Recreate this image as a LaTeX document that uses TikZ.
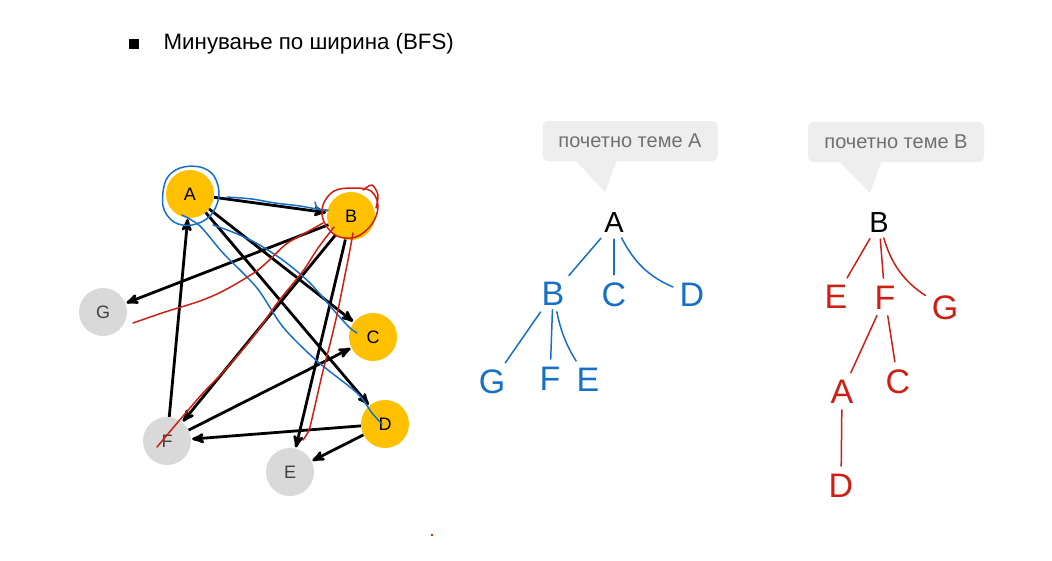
\documentclass[tikz,border=0pt]{standalone}
\usepackage{fontspec}
\setmainfont{Liberation Sans}
\usepackage{tikz}
\usetikzlibrary{arrows,positioning}

\definecolor{amber}{RGB}{255,192,0}
\definecolor{lightgrey}{RGB}{217,217,217}
\definecolor{penblue}{RGB}{24,112,198}
\definecolor{penred}{RGB}{204,32,20}
\definecolor{bubblegrey}{RGB}{238,238,238}
\definecolor{bubbletext}{RGB}{112,112,112}

\begin{document}
\begin{tikzpicture}[x=1pt,y=-1pt,>=stealth',
    main node/.style={circle,fill=amber,minimum size=48pt,inner sep=0pt,font=\fontsize{18}{20}\selectfont},
    grey node/.style={main node,fill=lightgrey,text=black!75},
    edge line/.style={->,line width=2.8pt,shorten >=1pt},
    hand blue/.style={penblue,line width=1.5pt,line cap=round,line join=round},
    hand red/.style={hand blue,penred},
    blue letter/.style={text=penblue,font=\fontsize{34}{34}\selectfont,inner sep=2pt},
    red letter/.style={blue letter,text=penred},
    root letter/.style={font=\fontsize{29}{29}\selectfont,inner sep=2pt},
    bubble/.style={fill=bubblegrey,rounded corners=5pt,text=bubbletext,
                   font=\fontsize{20}{22}\selectfont,minimum height=40pt,inner xsep=10pt}]

  \fill[white] (0,0) rectangle (1052,560);
  \useasboundingbox (0,0) rectangle (1052,560);

  % title
  \node[fill=black,minimum size=10.5pt,inner sep=0pt] (bullet) at (134,44) {};
  \node[right=24pt of bullet,inner sep=0pt,font=\fontsize{22.3}{24}\selectfont] (title) {Минување по ширина (BFS)};

  % graph
  \node[main node] (A) at (190,194) {A};
  \node[main node] (B) at (351,216) {B};
  \node[main node] (C) at (373,337) {C};
  \node[main node] (D) at (385,424) {D};
  \node[grey node] (E) at (290,472) {E};
  \node[grey node] (F) at (167,441) {F};
  \node[grey node] (G) at (103,312) {G};

  \path[edge line]
    (A) edge (B)
    (A) edge (C)
    (A) edge (D)
    (B) edge (G)
    (B) edge (F)
    (B) edge (E)
    (F) edge (A)
    (F) edge (C)
    (D) edge (F)
    (D) edge (E);

  % blue pen, start at A
  \draw[hand blue] plot[smooth cycle,tension=0.6] coordinates
    {(166,180) (180,168) (200,167) (214,176) (219,196) (210,216) (192,225) (174,222) (163,206)};
  \draw[hand blue] plot[smooth] coordinates {(227,197) (252,199) (275,203) (300,206) (327,211)};
  \draw[hand blue] plot[smooth] coordinates {(315,202) (318,209) (328,210)};
  \draw[hand blue] plot[smooth] coordinates
    {(213,225) (235,233) (258,244) (284,261) (310,283) (337,314) (350,328) (357,333)};
  \draw[hand blue] plot[smooth] coordinates
    {(182,215) (200,226) (223,253) (257,288) (283,327) (317,361) (357,393) (372,413) (382,424)};

  % red pen, start at B
  \draw[hand red] plot[smooth cycle,tension=0.6] coordinates
    {(323,205) (334,191) (353,188) (371,191) (378,206) (372,224) (356,237) (337,236) (324,222)};
  \draw[hand red] plot[smooth] coordinates {(363,190) (372,185) (378,195) (376,208)};
  \draw[hand red] plot[smooth] coordinates
    {(323,223) (300,236) (285,245) (258,270) (225,290) (200,301) (165,312) (133,323)};
  \draw[hand red] plot[smooth] coordinates
    {(334,227) (318,248) (303,271) (278,302) (253,337) (225,370) (203,393) (178,422) (157,447)};
  \draw[hand red] plot[smooth] coordinates
    {(353,233) (349,255) (345,275) (338,310) (331,340) (322,375) (314,410) (309,430) (303,440)};

  % tree from A
  \node[bubble,minimum width=175pt] (callA) at (630,141) {почетно теме A};
  \fill[bubblegrey] (575,160) -- (617,160) -- (605,192) -- cycle;
  \node[root letter] (a0) at (614,223) {A};
  \node[blue letter] (a1) at (553,294) {B};
  \node[blue letter] (a2) at (614,295) {C};
  \node[blue letter] (a3) at (692,295) {D};
  \node[blue letter] (a4) at (492,382) {G};
  \node[blue letter] (a5) at (550,379) {F};
  \node[blue letter] (a6) at (588,380) {E};
  \draw[hand blue,shorten <=4pt,shorten >=6pt] (a0) -- (a1);
  \draw[hand blue,shorten <=4pt,shorten >=6pt] (a0) -- (a2);
  \draw[hand blue,shorten <=3pt,shorten >=5pt] (a0) to[bend right=20] (a3);
  \draw[hand blue,shorten <=5pt,shorten >=6pt] (a1) -- (a4);
  \draw[hand blue,shorten <=2pt,shorten >=6pt] (a1) -- (a5);
  \draw[hand blue,shorten <=4pt,shorten >=6pt] (a1) to[bend right=10] (a6);

  % tree from B
  \node[bubble,minimum width=176pt] (callB) at (896,142) {почетно теме B};
  \fill[bubblegrey] (838,160) -- (882,160) -- (870,193) -- cycle;
  \node[root letter] (b0) at (879,223) {B};
  \node[red letter] (b1) at (836,297) {E};
  \node[red letter] (b2) at (885,298) {F};
  \node[red letter] (b3) at (945,308) {G};
  \node[red letter] (b4) at (842,392) {A};
  \node[red letter] (b5) at (898,382) {C};
  \node[red letter] (b6) at (841,486) {D};
  \draw[hand red,shorten <=4pt,shorten >=6pt] (b0) -- (b1);
  \draw[hand red,shorten <=4pt,shorten >=6pt] (b0) -- (b2);
  \draw[hand red,shorten <=3pt,shorten >=5pt] (b0) to[bend right=20] (b3);
  \draw[hand red,shorten <=4pt,shorten >=6pt] (b2) -- (b4);
  \draw[hand red,shorten <=4pt,shorten >=6pt] (b2) -- (b5);
  \draw[hand red,shorten <=4pt,shorten >=6pt] (b4) -- (b6);

  \fill[penred] (432,535) circle (1.3);
\end{tikzpicture}
\end{document}
